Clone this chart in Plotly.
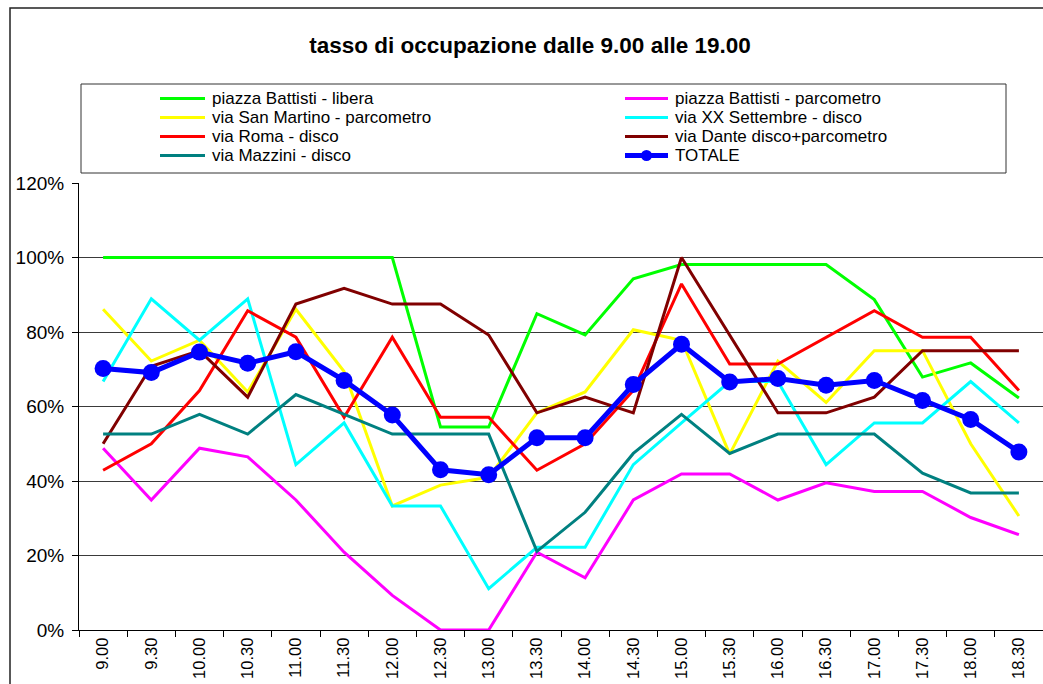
import plotly.graph_objects as go

# Time slots (half-hour readings)
orari = ["9.00", "9.30", "10.00", "10.30", "11.00", "11.30", "12.00", "12.30",
         "13.00", "13.30", "14.00", "14.30", "15.00", "15.30", "16.00", "16.30",
         "17.00", "17.30", "18.00", "18.30"]

# Occupancy rate per area (%)
piazza_battisti_libera = [100, 100, 100, 100, 100, 100, 100, 54.5, 54.5, 84.9,
                          79.2, 94.3, 98.1, 98.1, 98.1, 98.1, 88.7, 67.9, 71.7, 62.3]
piazza_battisti_parcometro = [48.8, 34.9, 48.8, 46.5, 34.9, 20.9, 9.3, 0, 0, 20.9,
                              14.0, 34.9, 41.9, 41.9, 34.9, 39.5, 37.2, 37.2, 30.2, 25.6]
via_san_martino = [86.1, 72.2, 77.8, 63.9, 86.1, 69.4, 33.3, 38.9, 41.0, 58.3,
                   63.9, 80.6, 77.8, 47.2, 72.2, 61.1, 75.0, 75.0, 50.0, 30.6]
via_xx_settembre = [66.7, 88.9, 77.8, 88.9, 44.4, 55.6, 33.3, 33.3, 11.1, 22.2,
                    22.2, 44.4, 55.6, 66.7, 66.7, 44.4, 55.6, 55.6, 66.7, 55.6]
via_roma = [42.9, 50.0, 64.3, 85.7, 78.6, 57.1, 78.6, 57.1, 57.1, 42.9,
            50.0, 64.3, 92.9, 71.4, 71.4, 78.6, 85.7, 78.6, 78.6, 64.3]
via_dante = [50.0, 70.8, 75.0, 62.5, 87.5, 91.7, 87.5, 87.5, 79.2, 58.3,
             62.5, 58.3, 100, 79.2, 58.3, 58.3, 62.5, 75.0, 75.0, 75.0]
via_mazzini = [52.6, 52.6, 57.9, 52.6, 63.2, 57.9, 52.6, 52.6, 52.6, 21.1,
               31.6, 47.4, 57.9, 47.4, 52.6, 52.6, 52.6, 42.1, 36.8, 36.8]
totale = [70.2, 69.1, 74.6, 71.6, 74.7, 67.0, 57.7, 43.0, 41.7, 51.6,
          51.6, 65.9, 76.7, 66.6, 67.5, 65.7, 67.0, 61.6, 56.5, 47.8]

nomi = ["piazza Battisti - libera", "piazza Battisti - parcometro",
        "via San Martino - parcometro", "via XX Settembre - disco",
        "via Roma - disco", "via Dante disco+parcometro",
        "via Mazzini - disco", "TOTALE"]
serie = [piazza_battisti_libera, piazza_battisti_parcometro, via_san_martino,
         via_xx_settembre, via_roma, via_dante, via_mazzini, totale]
colori = ["#00FF00", "#FF00FF", "#FFFF00", "#00FFFF",
          "#FF0000", "#800000", "#008080", "#0000FF"]

FONT = "Liberation Sans, Arial, sans-serif"

# Page and plot-area geometry (pixels)
W, H = 1043, 684
L, R, T, B = 79, 0, 183, 54
PW = W - L - R
PH = H - T - B


def fx(p):
    """pixel x -> paper x"""
    return (p - L) / PW


def fy(p):
    """pixel y -> paper y"""
    return (H - B - p) / PH


fig = go.Figure()

for nome, valori, colore in zip(nomi, serie, colori):
    if nome == "TOTALE":
        fig.add_trace(go.Scatter(
            x=orari, y=valori, name=nome, mode="lines+markers",
            line=dict(color=colore, width=5),
            marker=dict(color=colore, size=17, symbol="circle"),
            showlegend=False))
    else:
        fig.add_trace(go.Scatter(
            x=orari, y=valori, name=nome, mode="lines",
            line=dict(color=colore, width=3),
            showlegend=False))

shapes = []
annotations = []

# Outer chart frame
shapes.append(dict(type="rect", xref="paper", yref="paper",
                   x0=fx(10), x1=fx(1080), y0=fy(8), y1=fy(720),
                   line=dict(color="#222222", width=1.5), fillcolor="rgba(0,0,0,0)",
                   layer="below"))

# Legend box
shapes.append(dict(type="rect", xref="paper", yref="paper",
                   x0=fx(81), x1=fx(1006), y0=fy(84), y1=fy(173),
                   line=dict(color="#333333", width=1), fillcolor="white",
                   layer="below"))

# Legend entries: two columns, filled row by row
col_line = [(160, 205), (625, 668)]
col_text = [210, 673]
row_y = [98.5, 117.5, 136.5, 155.5]
for k, (nome, colore) in enumerate(zip(nomi, colori)):
    r, c = divmod(k, 2)
    y = fy(row_y[r])
    x0, x1 = col_line[c]
    spessore = 5 if nome == "TOTALE" else 3
    shapes.append(dict(type="line", xref="paper", yref="paper",
                       x0=fx(x0), x1=fx(x1), y0=y, y1=y,
                       line=dict(color=colore, width=spessore)))
    if nome == "TOTALE":
        cx, rr = (x0 + x1) / 2, 5.5
        shapes.append(dict(type="circle", xref="paper", yref="paper",
                           x0=fx(cx - rr), x1=fx(cx + rr),
                           y0=fy(row_y[r] + rr), y1=fy(row_y[r] - rr),
                           line=dict(color=colore, width=0), fillcolor=colore))
    annotations.append(dict(xref="paper", yref="paper", x=fx(col_text[c]), y=y,
                            xanchor="left", yanchor="middle", showarrow=False,
                            text=nome, font=dict(family=FONT, size=17, color="black")))

fig.update_layout(
    width=W, height=H,
    margin=dict(l=L, r=R, t=T, b=B, pad=0),
    paper_bgcolor="white", plot_bgcolor="white",
    title=dict(text="tasso di occupazione dalle 9.00 alle 19.00",
               font=dict(family=FONT, size=22.5, color="black", weight="bold"),
               xref="container", x=530 / W, xanchor="center",
               yref="container", y=1 - 45 / H, yanchor="middle"),
    shapes=shapes,
    annotations=annotations,
    showlegend=False,
)

fig.update_xaxes(
    type="category", categoryorder="array", categoryarray=orari,
    range=[-0.5, len(orari) - 0.5],
    showline=True, linecolor="black", linewidth=1,
    ticks="outside", tickson="boundaries", ticklen=6, tickcolor="black",
    tickangle=-90, tickfont=dict(family=FONT, size=16.5, color="black"),
    showgrid=False, zeroline=False, automargin=False,
)

fig.update_yaxes(
    range=[0, 120], dtick=20, tick0=0, ticksuffix="%",
    showline=True, linecolor="black", linewidth=1,
    ticks="outside", ticklen=6, tickcolor="black", ticklabelstandoff=4,
    tickfont=dict(family=FONT, size=19, color="black"),
    showgrid=True, gridcolor="#3a3a3a", gridwidth=1,
    zeroline=False, automargin=False,
)

fig.write_html("out.html")
